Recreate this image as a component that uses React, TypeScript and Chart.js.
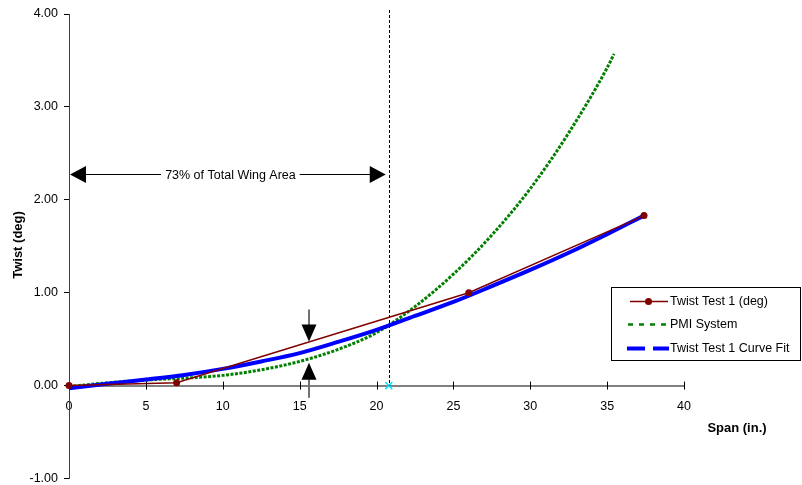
import React, { useEffect, useRef } from "react";
import { Chart, registerables } from "chart.js";

Chart.register(...registerables);

// ---- data ----
const xTickValues = [0, 5, 10, 15, 20, 25, 30, 35, 40];
const yTickValues = [-1, 0, 1, 2, 3, 4];

const spanTest = [0, 7, 26, 37.4];
const twistTest = [0, 0.03, 1.0, 1.83];

const spanPMI = [0, 2.5, 5, 7.5, 10, 12.5, 15, 17.5, 20, 22.5, 25, 27.5, 30, 32.5, 35, 35.45];
const twistPMI = [-0.01, 0.03, 0.06, 0.08, 0.11, 0.17, 0.26, 0.39, 0.57, 0.85, 1.2, 1.62, 2.12, 2.72, 3.42, 3.57];

const spanFit = [0, 2.5, 5, 7.5, 10, 12.5, 15, 17.5, 20, 22.5, 25, 27.5, 30, 32.5, 35, 37.4];
const twistFit = [-0.03, 0.02, 0.065, 0.115, 0.18, 0.26, 0.35, 0.47, 0.6, 0.75, 0.9, 1.07, 1.245, 1.43, 1.63, 1.83];

const markerSpan = [20.8];
const markerTwist = [0];

const seriesNames = ["Twist Test 1 (deg)", "PMI System", "Twist Test 1 Curve Fit"];
const areaLabel = "73% of Total Wing Area";
const areaSpan = 20.8;
const xTitle = "Span (in.)";
const yTitle = "Twist (deg)";

// annotation anchors (data units)
const areaArrowY = 2.28;
const areaArrowEnd = 20.6;
const areaTextX = 10.5;
const gapArrowX = 15.58;
const downArrowTop = 0.82;
const downArrowTip = 0.475;
const upArrowTip = 0.245;
const upArrowBottom = -0.13;

const FONT = "'Liberation Sans', Arial, sans-serif";
const RED = "#800000";
const GREEN = "#008000";
const BLUE = "#0000FF";

const pts = (xs: number[], ys: number[]) => xs.map((x, i) => ({ x, y: ys[i] }));

const overlay = {
  id: "overlay",
  afterDraw(chart: any) {
    const { ctx, chartArea } = chart;
    const xs = chart.scales.x;
    const ys = chart.scales.y;
    const px = (v: number) => xs.getPixelForValue(v);
    const py = (v: number) => ys.getPixelForValue(v);
    ctx.save();

    // x tick marks crossing the axis
    ctx.strokeStyle = "#000";
    ctx.lineWidth = 1;
    const y0 = py(0);
    xTickValues.forEach((v) => {
      if (v === 0) return;
      const X = Math.round(px(v)) + 0.5;
      ctx.beginPath();
      ctx.moveTo(X, y0 - 4);
      ctx.lineTo(X, y0 + 4);
      ctx.stroke();
    });

    // vertical dashed line
    ctx.setLineDash([3, 2]);
    ctx.strokeStyle = "#000";
    ctx.beginPath();
    const dx = Math.round(px(areaSpan)) + 0.5;
    ctx.moveTo(dx, chartArea.top - 4);
    ctx.lineTo(dx, y0);
    ctx.stroke();
    ctx.setLineDash([]);

    // horizontal arrow with text
    const ay = Math.round(py(areaArrowY)) + 0.5;
    const ax0 = px(0);
    const ax1 = px(areaArrowEnd);
    const tx = px(areaTextX);
    ctx.font = `12.5px ${FONT}`;
    const tw = ctx.measureText(areaLabel).width;
    ctx.strokeStyle = "#000";
    ctx.beginPath();
    ctx.moveTo(ax0 + 10, ay);
    ctx.lineTo(tx - tw / 2 - 4, ay);
    ctx.moveTo(tx + tw / 2 + 4, ay);
    ctx.lineTo(ax1 - 10, ay);
    ctx.stroke();
    ctx.fillStyle = "#000";
    ctx.beginPath();
    ctx.moveTo(ax0 + 1, ay);
    ctx.lineTo(ax0 + 17, ay - 8.5);
    ctx.lineTo(ax0 + 17, ay + 8.5);
    ctx.closePath();
    ctx.fill();
    ctx.beginPath();
    ctx.moveTo(ax1, ay);
    ctx.lineTo(ax1 - 16, ay - 8.5);
    ctx.lineTo(ax1 - 16, ay + 8.5);
    ctx.closePath();
    ctx.fill();
    ctx.textAlign = "center";
    ctx.textBaseline = "middle";
    ctx.fillText(areaLabel, tx, ay + 1);

    // vertical gap arrows
    const gx = Math.round(px(gapArrowX));
    const dTop = py(downArrowTop);
    const dTip = py(downArrowTip);
    const uTip = py(upArrowTip);
    const uBot = py(upArrowBottom);
    ctx.strokeStyle = "#707070";
    ctx.lineWidth = 2;
    ctx.beginPath();
    ctx.moveTo(gx, dTop);
    ctx.lineTo(gx, dTip - 15);
    ctx.moveTo(gx, uTip + 15);
    ctx.lineTo(gx, uBot);
    ctx.stroke();
    ctx.fillStyle = "#000";
    ctx.beginPath();
    ctx.moveTo(gx, dTip);
    ctx.lineTo(gx - 7.5, dTip - 17);
    ctx.lineTo(gx + 7.5, dTip - 17);
    ctx.closePath();
    ctx.fill();
    ctx.beginPath();
    ctx.moveTo(gx, uTip);
    ctx.lineTo(gx - 7.5, uTip + 17);
    ctx.lineTo(gx + 7.5, uTip + 17);
    ctx.closePath();
    ctx.fill();

    // axis titles
    ctx.fillStyle = "#000";
    ctx.font = `bold 13px ${FONT}`;
    ctx.textAlign = "center";
    ctx.textBaseline = "middle";
    ctx.fillText(xTitle, 737, 428);
    ctx.save();
    ctx.translate(18, 245);
    ctx.rotate(-Math.PI / 2);
    ctx.fillText(yTitle, 0, 0);
    ctx.restore();

    // legend
    const lx = 611.5, ly = 287.5, lw = 189, lh = 73;
    ctx.fillStyle = "#fff";
    ctx.fillRect(lx, ly, lw, lh);
    ctx.strokeStyle = "#000";
    ctx.lineWidth = 1;
    ctx.strokeRect(lx, ly, lw, lh);
    const rows = [301.5, 324.5, 348.5];
    // row 1
    ctx.strokeStyle = RED;
    ctx.lineWidth = 1.5;
    ctx.beginPath();
    ctx.moveTo(630, rows[0]);
    ctx.lineTo(668, rows[0]);
    ctx.stroke();
    ctx.fillStyle = RED;
    ctx.beginPath();
    ctx.arc(648.5, rows[0], 3.5, 0, Math.PI * 2);
    ctx.fill();
    // row 2
    ctx.strokeStyle = GREEN;
    ctx.lineWidth = 2.5;
    ctx.setLineDash([5, 6]);
    ctx.beginPath();
    ctx.moveTo(628, rows[1]);
    ctx.lineTo(666, rows[1]);
    ctx.stroke();
    // row 3
    ctx.strokeStyle = BLUE;
    ctx.lineWidth = 4;
    ctx.setLineDash([18, 8]);
    ctx.beginPath();
    ctx.moveTo(627, rows[2]);
    ctx.lineTo(669, rows[2]);
    ctx.stroke();
    ctx.setLineDash([]);
    ctx.fillStyle = "#000";
    ctx.font = `12.5px ${FONT}`;
    ctx.textAlign = "left";
    ctx.textBaseline = "middle";
    seriesNames.forEach((n, i) => ctx.fillText(n, 670, rows[i] + 0.5));

    ctx.restore();
  },
};

export default function App() {
  const ref = useRef<HTMLCanvasElement>(null);
  useEffect(() => {
    document.body.style.margin = "0";
    const canvas = ref.current!;
    const chart = new Chart(canvas, {
      type: "scatter",
      data: {
        datasets: [
          {
            label: seriesNames[0],
            data: pts(spanTest, twistTest),
            showLine: true,
            borderColor: RED,
            backgroundColor: RED,
            borderWidth: 1.5,
            pointRadius: 3.5,
            pointBorderWidth: 0,
            clip: false as any,
            order: 1,
          },
          {
            label: seriesNames[1],
            data: pts(spanPMI, twistPMI),
            showLine: true,
            borderColor: GREEN,
            backgroundColor: GREEN,
            borderWidth: 3,
            borderDash: [3, 1.5],
            pointRadius: 0,
            cubicInterpolationMode: "monotone",
            clip: false as any,
            order: 3,
          },
          {
            label: seriesNames[2],
            data: pts(spanFit, twistFit),
            showLine: true,
            borderColor: BLUE,
            backgroundColor: BLUE,
            borderWidth: 4,
            pointRadius: 0,
            cubicInterpolationMode: "monotone",
            clip: false as any,
            order: 2,
          },
          {
            label: "marker",
            data: pts(markerSpan, markerTwist),
            showLine: false,
            pointStyle: "crossRot",
            pointRadius: 5,
            borderColor: "#00E5FF",
            borderWidth: 1.5,
            clip: false as any,
            order: 0,
          },
        ],
      },
      options: {
        responsive: false,
        animation: false,
        devicePixelRatio: 1,
        layout: { padding: { left: 0, top: 14, right: 118, bottom: 6 } },
        plugins: { legend: { display: false }, tooltip: { enabled: false } },
        scales: {
          x: {
            type: "linear",
            position: { y: 0 } as any,
            min: 0,
            max: 40,
            afterBuildTicks: (s: any) => {
              s.ticks = xTickValues.map((v) => ({ value: v }));
            },
            grid: { display: true, drawOnChartArea: false, drawTicks: false },
            border: { display: true, color: "#808080", width: 2 },
            ticks: {
              padding: 13,
              color: "#000",
              font: { family: FONT, size: 12.5 },
              maxRotation: 0,
              callback: (v: any) => String(v),
            },
          },
          y: {
            type: "linear",
            position: "left",
            min: -1,
            max: 4,
            afterBuildTicks: (s: any) => {
              s.ticks = yTickValues.map((v) => ({ value: v }));
            },
            afterFit: (s: any) => {
              s.width = 69;
              s.paddingTop = 0;
              s.paddingBottom = 0;
            },
            grid: { display: true, drawOnChartArea: false, drawTicks: true, tickLength: 5, color: "#000" },
            border: { display: true, color: "#404040", width: 1 },
            ticks: {
              padding: 6,
              color: "#000",
              font: { family: FONT, size: 12.5 },
              callback: (v: any) => Number(v).toFixed(2),
            },
          },
        },
      },
      plugins: [overlay],
    });
    return () => chart.destroy();
  }, []);
  return (
    <div style={{ position: "fixed", left: 0, top: 0, width: 802, height: 485 }}>
      <canvas ref={ref} width={802} height={485} style={{ display: "block" }} />
    </div>
  );
}
